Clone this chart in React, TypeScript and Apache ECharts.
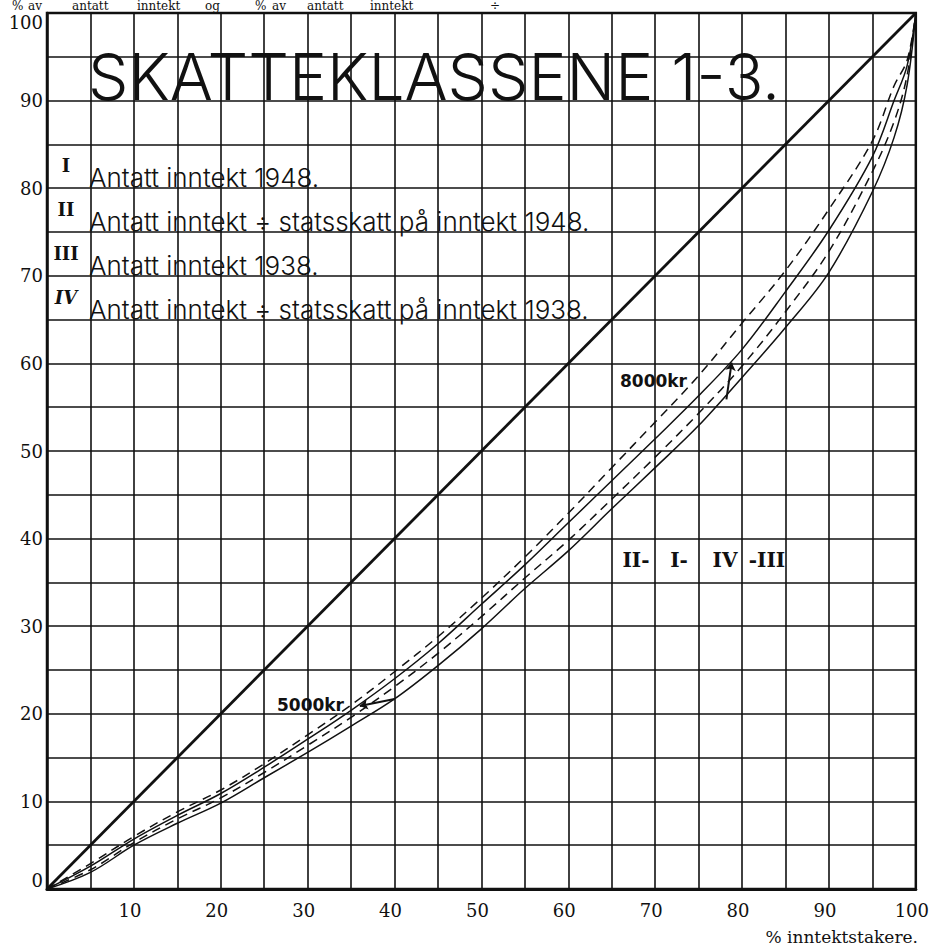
import React, { useEffect, useRef } from 'react';
import * as echarts from 'echarts';

// % inntektstakere (x) -> % av antatt inntekt (y)
const xPoints = [0, 5, 10, 15, 20, 25, 30, 35, 40, 45, 50, 55, 60, 65, 70, 75, 80, 85, 90, 95, 97.5, 99, 100];
const curveI = [0, 2.6, 5.7, 8.4, 10.9, 13.9, 17.1, 20.4, 24.0, 28.0, 32.5, 37.0, 41.8, 46.6, 51.4, 56.3, 61.6, 68.2, 75.2, 83.6, 90.0, 94.0, 100];
const curveII = [0, 2.9, 6.0, 8.8, 11.3, 14.3, 17.6, 21.0, 24.8, 28.8, 33.2, 37.9, 42.9, 48.1, 53.3, 58.6, 64.6, 70.6, 77.6, 85.4, 91.7, 94.6, 100];
const curveIII = [0, 1.9, 5.0, 7.5, 9.8, 12.7, 15.6, 18.6, 21.7, 25.5, 29.7, 34.3, 38.6, 43.4, 48.1, 52.9, 58.4, 64.1, 70.4, 79.6, 85.8, 91.8, 100];
const curveIV = [0, 2.2, 5.3, 8.0, 10.4, 13.3, 16.4, 19.6, 23.1, 26.9, 31.1, 35.5, 39.8, 44.5, 49.3, 54.3, 59.7, 65.9, 72.8, 81.9, 87.6, 92.9, 100];
const equalityX = [0, 100];
const equalityY = [0, 100];

const marker5000 = [[40, 21.7], [36, 20.9]];
const marker8000 = [[78.2, 55.9], [78.8, 60.1]];

const titleText = 'SKATTEKLASSENE 1-3.';
const legendNumerals = ['I', 'II', 'III', 'IV'];
const legendTexts = [
  'Antatt inntekt 1948.',
  'Antatt inntekt ÷ statsskatt på inntekt 1948.',
  'Antatt inntekt 1938.',
  'Antatt inntekt ÷ statsskatt på inntekt 1938.',
];
const curveTags = ['II-', 'I-', 'IV', '-III'];
const topWords = ['%', 'av', 'antatt', 'inntekt', 'og', '%', 'av', 'antatt', 'inntekt', '÷'];
const xAxisName = '% inntektstakere.';

const pairs = (xs: number[], ys: number[]) => xs.map((x, i) => [x, ys[i]]);

const HAND = 'Inter, "DejaVu Sans", sans-serif';
const SERIF = '"DejaVu Serif", serif';

export default function App() {
  const ref = useRef<HTMLDivElement>(null);
  useEffect(() => {
    if (!ref.current) return;
    const chart = echarts.init(ref.current, null, { renderer: 'svg' });

    const legendRowsY = [177, 221, 265, 309];
    const numeralY = [165, 209, 253, 297];
    const tagX = [636, 679, 725, 767];
    const topWordX = [12, 28, 72, 137, 205, 255, 272, 307, 370, 490];

    const graphic: any[] = [];
    graphic.push({
      type: 'text', left: 88, top: 44, z: 100,
      style: { text: titleText, font: `300 64px ${HAND}`, fill: '#111' },
    });
    legendTexts.forEach((t, i) => {
      graphic.push({
        type: 'text', x: 89, y: legendRowsY[i], z: 100,
        style: { text: t, font: `300 26px ${HAND}`, fill: '#111', textVerticalAlign: 'middle' },
      });
      graphic.push({
        type: 'text', x: 66, y: numeralY[i], z: 100,
        style: {
          text: legendNumerals[i],
          font: `${i === 3 ? 'italic ' : ''}bold 18px ${SERIF}`,
          fill: '#111', textAlign: 'center', textVerticalAlign: 'middle',
        },
      });
    });
    curveTags.forEach((t, i) => {
      graphic.push({
        type: 'text', x: tagX[i], y: 560, z: 100,
        style: { text: t, font: `bold 20px ${SERIF}`, fill: '#111', textAlign: 'center', textVerticalAlign: 'middle' },
      });
    });
    graphic.push({
      type: 'text', x: 277, y: 705, z: 100,
      style: { text: '5000kr', font: 'bold 17px "DejaVu Sans", sans-serif', fill: '#111', textVerticalAlign: 'middle' },
    });
    graphic.push({
      type: 'text', x: 620, y: 381, z: 100,
      style: { text: '8000kr', font: 'bold 17px "DejaVu Sans", sans-serif', fill: '#111', textVerticalAlign: 'middle' },
    });
    topWords.forEach((w, i) => {
      graphic.push({
        type: 'text', x: topWordX[i], y: 0, z: 100,
        style: { text: w, font: `12px ${SERIF}`, fill: '#111', textVerticalAlign: 'top' },
      });
    });
    graphic.push({
      type: 'text', x: 918, y: 937, z: 100,
      style: { text: xAxisName, font: `17px ${SERIF}`, fill: '#111', textAlign: 'right', textVerticalAlign: 'middle' },
    });

    const curve = (name: string, ys: number[], dashed: boolean) => ({
      type: 'line', name, data: pairs(xPoints, ys), symbol: 'none', smooth: 0.35,
      lineStyle: { color: '#111', width: 1.5, type: dashed ? [9, 6] : 'solid' },
    });

    chart.setOption({
      animation: false,
      backgroundColor: '#fff',
      grid: { left: 47, top: 13, right: 16, bottom: 59, show: true, borderColor: '#111', borderWidth: 2.5, backgroundColor: 'transparent' },
      xAxis: {
        type: 'value', min: 0, max: 100, interval: 5,
        axisLine: { show: true, lineStyle: { color: '#111', width: 3 } },
        axisTick: { show: false },
        splitLine: { show: true, lineStyle: { color: '#111', width: 1.6 } },
        axisLabel: {
          margin: 12, padding: [0, 8, 0, 0],
          color: '#111', fontFamily: '"DejaVu Serif", serif', fontSize: 18,
          formatter: (v: number) => (v % 10 === 0 && v !== 0 ? String(v) : ''),
        },
      },
      yAxis: {
        type: 'value', min: 0, max: 100, interval: 5,
        axisLine: { show: true, lineStyle: { color: '#111', width: 2.5 } },
        axisTick: { show: false },
        splitLine: { show: true, lineStyle: { color: '#111', width: 1.6 } },
        axisLabel: {
          margin: 4, color: '#111', fontFamily: '"DejaVu Serif", serif', fontSize: 18,
          verticalAlignMaxLabel: 'top', verticalAlignMinLabel: 'bottom',
          formatter: (v: number) => (v % 10 === 0 ? String(v) : ''),
        },
      },
      series: [
        { type: 'line', data: pairs(equalityX, equalityY), symbol: 'none', lineStyle: { color: '#111', width: 2.8 } },
        curve('I', curveI, false),
        curve('II', curveII, true),
        curve('III', curveIII, false),
        curve('IV', curveIV, true),
        {
          type: 'lines', coordinateSystem: 'cartesian2d',
          symbol: ['none', 'arrow'], symbolSize: 8,
          lineStyle: { color: '#111', width: 2, opacity: 1 },
          data: [{ coords: marker5000 }, { coords: marker8000 }],
        },
      ],
      graphic,
    });
    return () => chart.dispose();
  }, []);
  return <div ref={ref} style={{ position: 'absolute', left: 0, top: 0, width: 932, height: 948 }} />;
}
